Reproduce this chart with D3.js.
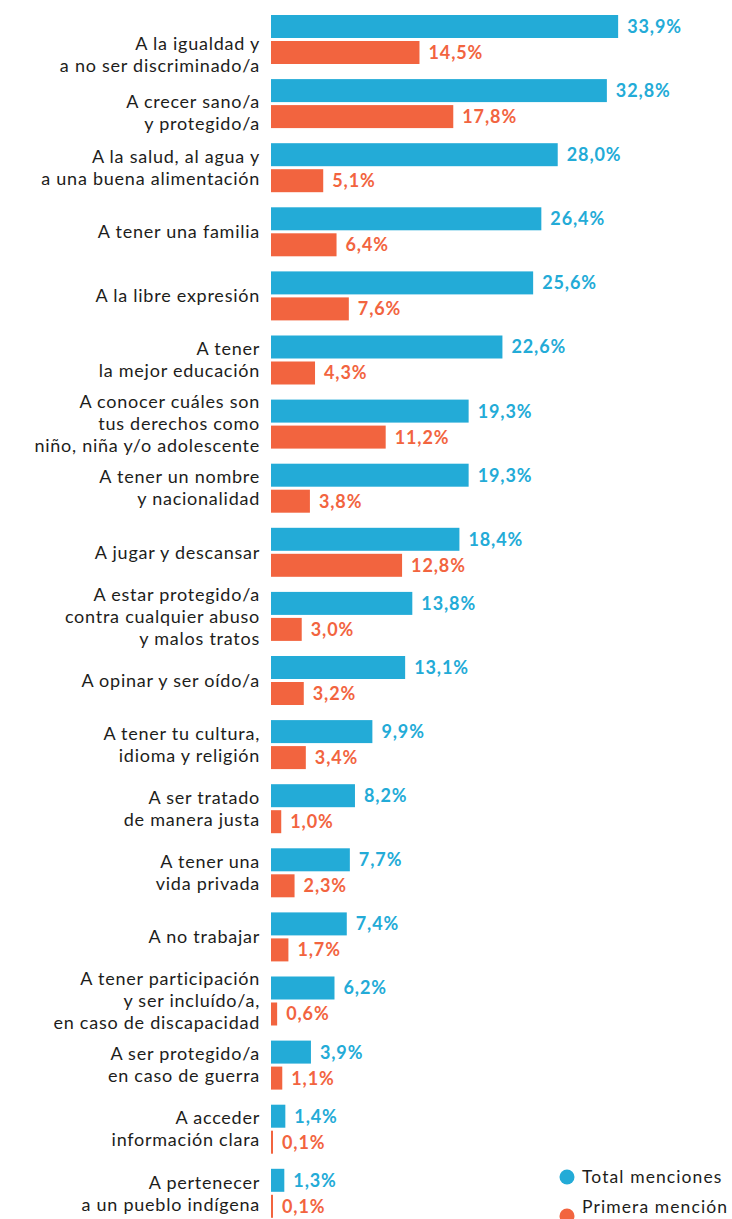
<!DOCTYPE html>
<html>
<head>
<meta charset="utf-8">
<script src="https://cdn.jsdelivr.net/npm/d3@7"></script>
<style>
  body { margin: 0; background: #fff; }
  svg { display: block; font-family: Lato, "Open Sans", sans-serif; }
</style>
</head>
<body>
<div id="chart"></div>
<script>
// categories (lines separated by "|")
var categories = [
  "A la igualdad y|a no ser discriminado/a",
  "A crecer sano/a|y protegido/a",
  "A la salud, al agua y|a una buena alimentación",
  "A tener una familia",
  "A la libre expresión",
  "A tener|la mejor educación",
  "A conocer cuáles son|tus derechos como|niño, niña y/o adolescente",
  "A tener un nombre|y nacionalidad",
  "A jugar y descansar",
  "A estar protegido/a|contra cualquier abuso|y malos tratos",
  "A opinar y ser oído/a",
  "A tener tu cultura,|idioma y religión",
  "A ser tratado|de manera justa",
  "A tener una|vida privada",
  "A no trabajar",
  "A tener participación|y ser incluído/a,|en caso de discapacidad",
  "A ser protegido/a|en caso de guerra",
  "A acceder|información clara",
  "A pertenecer|a un pueblo indígena"
];
var totalMenciones = [33.9, 32.8, 28.0, 26.4, 25.6, 22.6, 19.3, 19.3, 18.4, 13.8, 13.1, 9.9, 8.2, 7.7, 7.4, 6.2, 3.9, 1.4, 1.3];
var primeraMencion = [14.5, 17.8, 5.1, 6.4, 7.6, 4.3, 11.2, 3.8, 12.8, 3.0, 3.2, 3.4, 1.0, 2.3, 1.7, 0.6, 1.1, 0.1, 0.1];
var seriesNames = ["Total menciones", "Primera mención"];
var seriesColors = ["#23abd7", "#f2643f"];

var width = 732, height = 1219;
var svg = d3.select("#chart").append("svg")
  .attr("width", width)
  .attr("height", height);

var x = d3.scaleLinear().domain([0, 34]).range([271, 271 + 34 * 10.24]);

var y = d3.scaleBand()
  .domain(d3.range(categories.length))
  .range([15, 15 + 64.1 * (categories.length - 0.2356)])
  .paddingInner(0.2356)
  .paddingOuter(0);

var ySub = d3.scaleBand()
  .domain([0, 1])
  .range([0, y.bandwidth()])
  .paddingInner(0.1154);

var fmt = function(v) { return d3.format(".1f")(v).replace(".", ",") + "%"; };

var rows = categories.map(function(c, i) {
  return { label: c.split("|"), vals: [totalMenciones[i], primeraMencion[i]], i: i };
});

var g = svg.selectAll("g.row")
  .data(rows)
  .enter().append("g")
  .attr("class", "row")
  .attr("transform", function(d) { return "translate(0," + y(d.i) + ")"; });

// bars
g.selectAll("rect")
  .data(function(d) { return d.vals.map(function(v, k) { return { v: v, k: k }; }); })
  .enter().append("rect")
  .attr("x", x(0))
  .attr("y", function(d) { return ySub(d.k); })
  .attr("width", function(d) { return Math.max(2, x(d.v) - x(0)); })
  .attr("height", ySub.bandwidth())
  .attr("fill", function(d) { return seriesColors[d.k]; });

// value labels
g.selectAll("text.val")
  .data(function(d) { return d.vals.map(function(v, k) { return { v: v, k: k }; }); })
  .enter().append("text")
  .attr("class", "val")
  .attr("x", function(d) { return Math.max(x(0) + 2, x(d.v)) + 9; })
  .attr("y", function(d) { return ySub(d.k) + ySub.bandwidth() / 2; })
  .attr("dy", "0.36em")
  .attr("fill", function(d) { return seriesColors[d.k]; })
  .style("font-size", "18px")
  .style("font-weight", 700)
  .style("letter-spacing", "0.9px")
  .text(function(d) { return fmt(d.v); });

// category labels
var nudge = { 0: 15, 1: 9 };
var lineH = 22;
g.append("text")
  .attr("class", "cat")
  .attr("text-anchor", "end")
  .attr("fill", "#1d1d1b")
  .style("font-size", "18px")
  .style("letter-spacing", "0.75px")
  .each(function(d) {
    var t = d3.select(this);
    var n = d.label.length;
    var c = y.bandwidth() / 2 + (nudge[d.i] || 0);
    d.label.forEach(function(line, j) {
      t.append("tspan")
        .attr("x", 260)
        .attr("y", c + (j - (n - 1) / 2) * lineH)
        .attr("dy", "0.35em")
        .text(line);
    });
  });

// legend
var legend = svg.append("g").attr("class", "legend");
var legendY = [1177, 1216];
seriesNames.forEach(function(name, k) {
  legend.append("circle")
    .attr("cx", 567)
    .attr("cy", legendY[k])
    .attr("r", 7.5)
    .attr("fill", seriesColors[k]);
  legend.append("text")
    .attr("x", 582)
    .attr("y", legendY[k] - (k === 1 ? 9 : 0))
    .attr("dy", "0.35em")
    .attr("fill", "#1d1d1b")
    .style("font-size", "17.5px")
    .style("letter-spacing", "1.1px")
    .text(name);
});
</script>
</body>
</html>
